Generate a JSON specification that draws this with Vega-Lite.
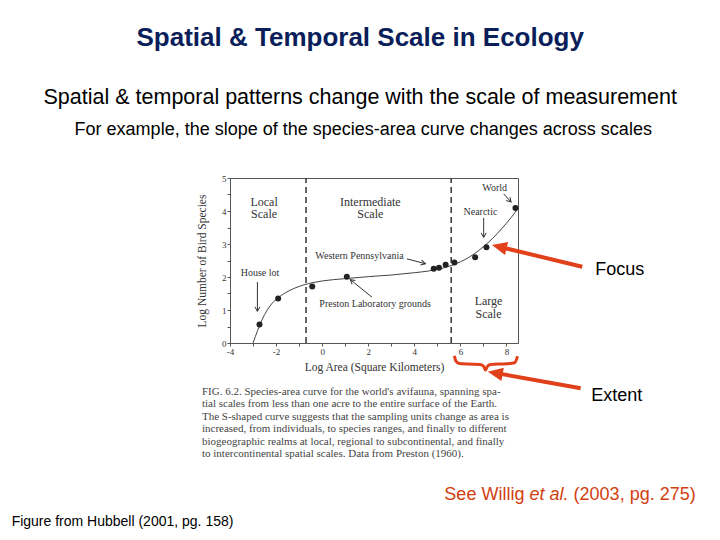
{
  "$schema": "https://vega.github.io/schema/vega-lite/v6.json",
  "width": 288,
  "height": 165,
  "autosize": {"type": "none"},
  "padding": {"left": 230, "top": 178, "right": 202, "bottom": 197},
  "background": "white",
  "config": {
    "view": {"stroke": "#555555", "strokeWidth": 1},
    "axis": {
      "grid": false,
      "domainColor": "#555555",
      "tickColor": "#555555",
      "tickSize": 3,
      "labelFont": "Liberation Serif",
      "labelFontSize": 9,
      "labelColor": "#333333",
      "titleFont": "Liberation Serif",
      "titleFontSize": 11.5,
      "titleFontWeight": "normal",
      "titleColor": "#333333",
      "labelFlush": false,
      "labelOverlap": false
    },
    "text": {"font": "Liberation Sans"}
  },
  "encoding": {
    "x": {
      "field": "x",
      "type": "quantitative",
      "scale": {"domain": [-4, 8.5], "nice": false, "zero": false},
      "axis": {
        "title": "Log Area (Square Kilometers)",
        "values": [-4, -3, -2, -1, 0, 1, 2, 3, 4, 5, 6, 7, 8],
        "labelExpr": "datum.value % 2 == 0 ? '' + datum.value : ''",
        "labelPadding": 1,
        "titlePadding": 5
      }
    },
    "y": {
      "field": "y",
      "type": "quantitative",
      "scale": {"domain": [0, 5], "nice": false, "zero": false},
      "axis": {
        "title": "Log Number of Bird Species",
        "values": [0, 0.5, 1, 1.5, 2, 2.5, 3, 3.5, 4, 4.5, 5],
        "labelExpr": "datum.value % 1 == 0 ? '' + datum.value : ''",
        "labelPadding": 1,
        "titlePadding": 14
      }
    }
  },
  "layer": [
    {
      "data": {"values": [
        {"x": -3.0, "y": 0.0}, {"x": -2.8, "y": 0.38}, {"x": -2.6, "y": 0.72},
        {"x": -2.4, "y": 0.98}, {"x": -2.2, "y": 1.18}, {"x": -2.0, "y": 1.32},
        {"x": -1.6, "y": 1.52}, {"x": -1.2, "y": 1.66}, {"x": -0.8, "y": 1.76},
        {"x": -0.4, "y": 1.83}, {"x": 0.0, "y": 1.88}, {"x": 1.0, "y": 1.95},
        {"x": 2.0, "y": 2.01}, {"x": 3.0, "y": 2.06}, {"x": 4.0, "y": 2.13},
        {"x": 4.6, "y": 2.18}, {"x": 5.0, "y": 2.23}, {"x": 5.4, "y": 2.3},
        {"x": 5.8, "y": 2.4}, {"x": 6.2, "y": 2.53}, {"x": 6.6, "y": 2.7},
        {"x": 7.0, "y": 2.92}, {"x": 7.4, "y": 3.17}, {"x": 7.8, "y": 3.47},
        {"x": 8.2, "y": 3.8}, {"x": 8.5, "y": 4.08}
      ]},
      "mark": {"type": "line", "color": "#444444", "strokeWidth": 1, "interpolate": "monotone"}
    },
    {
      "data": {"values": [
        {"x": -2.72, "y": 0.56}, {"x": -1.91, "y": 1.35}, {"x": -0.43, "y": 1.71},
        {"x": 1.07, "y": 2.01}, {"x": 4.84, "y": 2.25}, {"x": 5.07, "y": 2.28},
        {"x": 5.36, "y": 2.37}, {"x": 5.74, "y": 2.44}, {"x": 6.64, "y": 2.6},
        {"x": 7.13, "y": 2.9}, {"x": 8.39, "y": 4.09}
      ]},
      "mark": {"type": "point", "filled": true, "color": "#222222", "size": 36, "opacity": 1}
    },
    {
      "data": {"values": [{"x": -0.7, "y": 0, "y2": 5}, {"x": 5.6, "y": 0, "y2": 5}]},
      "mark": {"type": "rule", "color": "#333333", "strokeWidth": 1.5, "strokeDash": [6, 4]},
      "encoding": {"y2": {"field": "y2"}}
    },
    {
      "data": {"values": [
        {"text": "Local", "x": -2.52, "y": 4.28}, {"text": "Scale", "x": -2.52, "y": 3.9},
        {"text": "Intermediate", "x": 2.09, "y": 4.28}, {"text": "Scale", "x": 2.09, "y": 3.9},
        {"text": "Large", "x": 7.22, "y": 1.27}, {"text": "Scale", "x": 7.22, "y": 0.89}
      ]},
      "mark": {"type": "text", "font": "Liberation Serif", "fontSize": 12, "color": "#333333", "align": "center", "baseline": "middle"},
      "encoding": {"text": {"field": "text"}}
    },
    {
      "data": {"values": [
        {"text": "World", "x": 7.49, "y": 4.69},
        {"text": "Nearctic", "x": 6.87, "y": 3.96},
        {"text": "Western Pennsylvania", "x": 1.62, "y": 2.65},
        {"text": "House lot", "x": -2.7, "y": 2.11},
        {"text": "Preston  Laboratory grounds", "x": 2.3, "y": 1.17}
      ]},
      "mark": {"type": "text", "font": "Liberation Serif", "fontSize": 10, "color": "#333333", "align": "center", "baseline": "middle"},
      "encoding": {"text": {"field": "text"}}
    },
    {
      "data": {"values": [
        {"name": "World", "x": 7.88, "y": 4.52, "x2": 8.2, "y2": 4.27},
        {"name": "Nearctic", "x": 7.01, "y": 3.79, "x2": 7.01, "y2": 3.2},
        {"name": "House", "x": -2.81, "y": 1.85, "x2": -2.81, "y2": 0.96},
        {"name": "WP", "x": 3.68, "y": 2.55, "x2": 4.48, "y2": 2.4},
        {"name": "Preston", "x": 2.16, "y": 1.39, "x2": 1.22, "y2": 1.92}
      ]},
      "layer": [
        {
          "mark": {"type": "rule", "color": "#333333", "strokeWidth": 1},
          "encoding": {"x2": {"field": "x2"}, "y2": {"field": "y2"}}
        },
        {
          "mark": {"type": "point", "shape": "M-0.5,0.9L0,0L0.5,0.9", "filled": false, "color": "#333333", "strokeWidth": 1, "size": 100, "opacity": 1},
          "encoding": {
            "x": {"field": "x2", "type": "quantitative"},
            "y": {"field": "y2", "type": "quantitative"},
            "angle": {"field": "name", "type": "nominal", "scale": {"type": "ordinal", "domain": ["World", "Nearctic", "House", "WP", "Preston", "Focus", "Extent"], "range": [138, 180, 180, 105, 309, 283.5, 280.2]}, "legend": null}
          }
        }
      ]
    },
    {
      "data": {"values": [
        {"x": 5.74, "y": -0.39}, {"x": 5.8, "y": -0.54}, {"x": 5.95, "y": -0.62},
        {"x": 6.3, "y": -0.64}, {"x": 6.85, "y": -0.65}, {"x": 7.0, "y": -0.7},
        {"x": 7.09, "y": -0.82}, {"x": 7.18, "y": -0.7}, {"x": 7.33, "y": -0.65},
        {"x": 8.0, "y": -0.63}, {"x": 8.35, "y": -0.6}, {"x": 8.48, "y": -0.4}
      ]},
      "mark": {"type": "line", "color": "#e0401a", "strokeWidth": 3, "interpolate": "monotone"}
    },
    {
      "data": {"values": [
        {"name": "Focus", "x": 11.29, "y": 2.31, "x2": 7.79, "y2": 2.9, "tx": 7.37, "ty": 2.97},
        {"name": "Extent", "x": 11.22, "y": -1.37, "x2": 7.62, "y2": -0.92, "tx": 7.19, "ty": -0.87}
      ]},
      "layer": [
        {
          "mark": {"type": "rule", "color": "#e0401a", "strokeWidth": 4},
          "encoding": {"x2": {"field": "x2"}, "y2": {"field": "y2"}}
        },
        {
          "mark": {"type": "point", "shape": "M0,0L-0.45,1L0.45,1Z", "filled": true, "color": "#e0401a", "size": 900, "opacity": 1},
          "encoding": {
            "x": {"field": "tx", "type": "quantitative"},
            "y": {"field": "ty", "type": "quantitative"},
            "angle": {"field": "name", "type": "nominal", "scale": {"type": "ordinal", "domain": ["World", "Nearctic", "House", "WP", "Preston", "Focus", "Extent"], "range": [138, 180, 180, 105, 309, 283.5, 280.2]}, "legend": null}
          }
        }
      ]
    },
    {
      "data": {"values": [{"x": 1.652, "y": 9.242, "text": "Spatial & Temporal Scale in Ecology"}]},
      "mark": {"type": "text", "fontSize": 26, "fontWeight": "bold", "color": "#0a1e5a", "align": "center", "baseline": "middle"},
      "encoding": {"text": {"field": "text"}}
    },
    {
      "data": {"values": [{"x": 1.652, "y": 7.424, "text": "Spatial & temporal patterns change with the scale of measurement"}]},
      "mark": {"type": "text", "fontSize": 21.5, "color": "#000000", "align": "center", "baseline": "middle"},
      "encoding": {"text": {"field": "text"}}
    },
    {
      "data": {"values": [
        {"x": 1.783, "y": 6.455, "text": "For example, the slope of the species-area curve changes across scales"},
        {"x": 12.913, "y": 2.212, "text": "Focus"},
        {"x": 12.783, "y": -1.606, "text": "Extent"}
      ]},
      "mark": {"type": "text", "fontSize": 18, "color": "#000000", "align": "center", "baseline": "middle"},
      "encoding": {"text": {"field": "text"}}
    },
    {
      "data": {"values": [
        {"x": 5.304, "y": -4.606, "text": "See Willig"},
        {"x": 10.913, "y": -4.606, "text": "(2003, pg. 275)"}
      ]},
      "mark": {"type": "text", "fontSize": 18, "color": "#d2400f", "align": "left", "baseline": "middle"},
      "encoding": {"text": {"field": "text"}}
    },
    {
      "data": {"values": [{"x": 9.0, "y": -4.606, "text": "et al."}]},
      "mark": {"type": "text", "fontSize": 18, "fontStyle": "italic", "color": "#d2400f", "align": "left", "baseline": "middle"},
      "encoding": {"text": {"field": "text"}}
    },
    {
      "data": {"values": [{"x": -13.478, "y": -5.424, "text": "Figure from Hubbell (2001, pg. 158)"}]},
      "mark": {"type": "text", "fontSize": 14, "color": "#000000", "align": "left", "baseline": "middle"},
      "encoding": {"text": {"field": "text"}}
    },
    {
      "data": {"values": [{"x": -5.217, "y": -1.303, "text": [
        "FIG. 6.2.  Species-area curve for the world's avifauna, spanning spa-",
        "tial scales from less than one acre to the entire surface of the Earth.",
        "The S-shaped curve suggests that the sampling units change as area is",
        "increased, from individuals, to species ranges, and finally to different",
        "biogeographic realms at local, regional to subcontinental, and finally",
        "to intercontinental spatial scales. Data from Preston (1960)."
      ]}]},
      "mark": {"type": "text", "font": "Liberation Serif", "fontSize": 11, "lineHeight": 12.4, "color": "#444444", "align": "left", "baseline": "top"},
      "encoding": {"text": {"field": "text"}}
    }
  ]
}
